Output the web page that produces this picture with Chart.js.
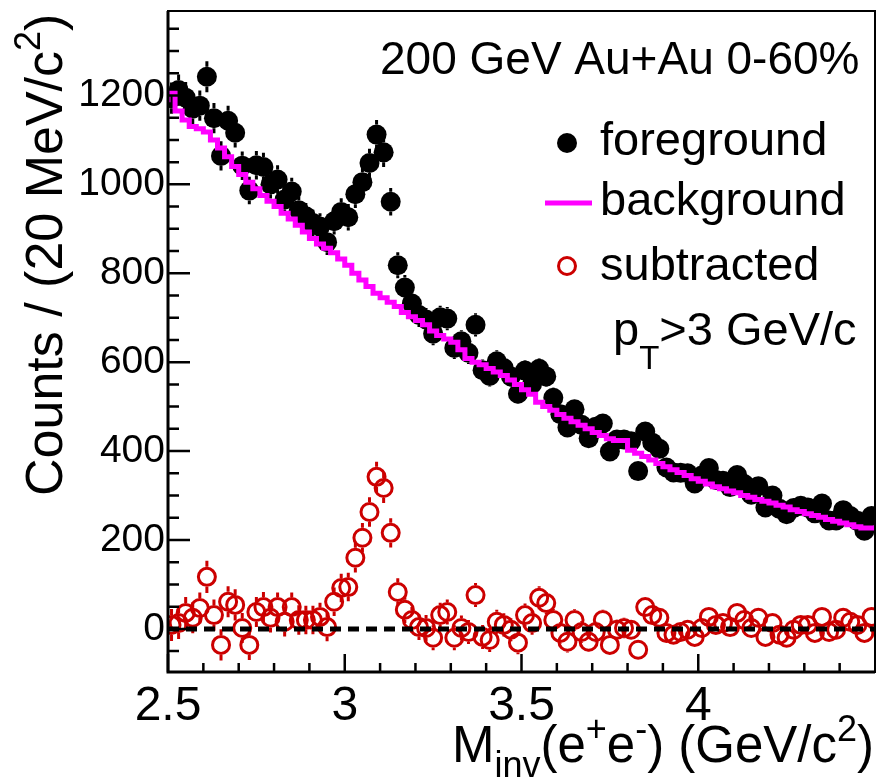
<!DOCTYPE html>
<html>
<head>
<meta charset="utf-8">
<script src="https://cdn.jsdelivr.net/npm/chart.js@4"></script>
<style>
  body { margin: 0; background: #fff; }
  canvas { display: block; }
</style>
</head>
<body>
<canvas id="massChart" width="877" height="781"></canvas>
<script>
// 100 bins of 20 MeV/c^2 between 2.5 and 4.5 GeV/c^2
const massLow = 2.5;
const binWidth = 0.02;

// same-event pairs
const foreground = [
  1194, 1212, 1195, 1170, 1177, 1242, 1149, 1064, 1143, 1116,
  1042, 986, 1043, 1039, 1000, 1011, 966, 984, 942, 928,
  913, 905, 870, 917, 938, 926, 978, 1005, 1048, 1112,
  1072, 961, 818, 768, 732, 706, 696, 664, 701, 698,
  632, 647, 621, 684, 582, 569, 602, 587, 568, 529,
  581, 551, 585, 568, 520, 483, 453, 494, 459, 429,
  455, 462, 399, 426, 426, 422, 355, 444, 419, 405,
  363, 352, 351, 350, 327, 345, 362, 335, 333, 319,
  346, 326, 302, 321, 273, 300, 270, 258, 272, 277,
  273, 260, 282, 244, 244, 267, 254, 243, 221, 254
];
const foregroundErr = [
  35, 35, 35, 34, 34, 35, 34, 33, 34, 33,
  32, 31, 32, 32, 32, 32, 31, 31, 31, 30,
  30, 30, 29, 30, 31, 30, 31, 32, 32, 33,
  33, 31, 29, 28, 27, 27, 26, 26, 26, 26,
  25, 25, 25, 26, 24, 24, 25, 24, 24, 23,
  24, 24, 24, 24, 23, 22, 21, 22, 21, 21,
  21, 21, 20, 21, 21, 21, 19, 21, 20, 20,
  19, 19, 19, 19, 18, 19, 19, 18, 18, 18,
  19, 18, 17, 18, 17, 17, 16, 16, 16, 17,
  17, 16, 17, 16, 16, 16, 16, 16, 15, 16
];

// mixed-event background
const background = [
  1185, 1205, 1165, 1145, 1130, 1125, 1118, 1100, 1082, 1062,
  1040, 1022, 1005, 990, 975, 962, 950, 935, 922, 908,
  893, 878, 866, 856, 846, 832, 818, 800, 785, 770,
  755, 745, 735, 725, 712, 702, 694, 684, 670, 660,
  652, 645, 628, 608, 600, 594, 586, 578, 570, 560,
  550, 538, 528, 510, 500, 492, 482, 474, 466, 458,
  450, 442, 435, 428, 424, 424, 402, 395, 388, 380,
  372, 365, 358, 352, 345, 338, 332, 326, 320, 315,
  310, 306, 300, 296, 291, 287, 283, 278, 274, 268,
  264, 259, 255, 251, 246, 242, 238, 234, 230, 227
];

// foreground minus background
const subtracted = [
  9, 13, 36, 25, 47, 117, 31, -36, 61, 54,
  2, -36, 38, 49, 25, 49, 16, 49, 20, 20,
  20, 27, 4, 61, 92, 94, 160, 205, 263, 342,
  317, 216, 83, 43, 20, 4, 2, -20, 31, 38,
  -20, 2, -7, 76, -18, -25, 16, 9, -2, -31,
  31, 13, 70, 58, 20, -9, -29, 20, -7, -29,
  -7, 20, -36, -2, 2, -2, -47, 49, 31, 25,
  -9, -13, -7, -2, -18, 2, 27, 9, 13, 4,
  36, 20, 2, 25, -18, 13, -13, -20, -2, 9,
  9, -9, 27, -7, -2, 25, 16, 9, -9, 27
];
const subtractedErr = [
  36, 36, 36, 35, 35, 36, 35, 35, 35, 35,
  34, 34, 34, 34, 33, 33, 33, 33, 33, 32,
  32, 32, 32, 32, 32, 32, 33, 33, 33, 34,
  34, 33, 31, 30, 29, 29, 29, 28, 28, 28,
  28, 28, 27, 27, 27, 27, 27, 26, 26, 26,
  26, 26, 26, 25, 25, 24, 24, 24, 24, 23,
  23, 23, 23, 23, 23, 22, 22, 22, 22, 22,
  21, 21, 21, 21, 21, 21, 21, 20, 20, 20,
  20, 20, 20, 20, 19, 19, 19, 19, 19, 19,
  19, 19, 18, 18, 18, 18, 18, 18, 18, 18
];

const xTicks = [2.5, 3, 3.5, 4];
const xTickLabels = ['2.5', '3', '3.5', '4'];
const yTicks = [0, 200, 400, 600, 800, 1000, 1200];
const yTickLabels = ['0', '200', '400', '600', '800', '1000', '1200'];

const FONT = '"Liberation Sans", Arial, Helvetica, sans-serif';
const MAGENTA = '#ff00ff';
const RED = '#cc0000';

const binCenter = i => massLow + binWidth * (i + 0.5);
const fgPoints = foreground.map((v, i) => ({ x: binCenter(i), y: v }));
const subPoints = subtracted.map((v, i) => ({ x: binCenter(i), y: v }));
// step histogram: one point per low edge, plus the last upper edge
const bgPoints = background.map((v, i) => ({ x: massLow + binWidth * i, y: v }));
bgPoints.push({ x: massLow + binWidth * background.length, y: background[background.length - 1] });

// vertical error bars, drawn only outside the marker like ROOT does
const errorBars = {
  id: 'errorBars',
  beforeDatasetsDraw(chart) {
    const ctx = chart.ctx;
    const area = chart.chartArea;
    const y = chart.scales.y;
    ctx.save();
    ctx.beginPath();
    ctx.rect(area.left, area.top, area.right - area.left, area.bottom - area.top);
    ctx.clip();
    chart.data.datasets.forEach((ds, di) => {
      if (!ds.errors) return;
      const meta = chart.getDatasetMeta(di);
      const r = ds.pointRadius + (ds.borderWidth || 0) / 2;
      ctx.strokeStyle = ds.borderColor;
      ctx.lineWidth = 3;
      meta.data.forEach((el, i) => {
        const v = ds.data[i].y;
        const top = y.getPixelForValue(v + ds.errors[i]);
        const bot = y.getPixelForValue(v - ds.errors[i]);
        ctx.beginPath();
        if (top < el.y - r) { ctx.moveTo(el.x, top); ctx.lineTo(el.x, el.y - r); }
        if (bot > el.y + r) { ctx.moveTo(el.x, el.y + r); ctx.lineTo(el.x, bot); }
        ctx.stroke();
      });
    });
    ctx.restore();
  }
};

// parts: [text, size factor, vertical shift in em]
function richWidth(ctx, parts, size) {
  let w = 0;
  parts.forEach(p => {
    ctx.font = Math.round(size * p[1]) + 'px ' + FONT;
    w += ctx.measureText(p[0]).width;
  });
  return w;
}
function drawRich(ctx, parts, x, y, size) {
  parts.forEach(p => {
    ctx.font = Math.round(size * p[1]) + 'px ' + FONT;
    ctx.fillText(p[0], x, y + p[2] * size);
    x += ctx.measureText(p[0]).width;
  });
}

const decorations = {
  id: 'decorations',
  afterDraw(chart) {
    const ctx = chart.ctx;
    const { left, right, top, bottom } = chart.chartArea;
    const xs = chart.scales.x, ys = chart.scales.y;
    ctx.save();
    ctx.strokeStyle = '#000';
    ctx.fillStyle = '#000';

    // frame
    ctx.lineWidth = 2;
    ctx.strokeRect(left, top, right - left, bottom - top);
    ctx.lineWidth = 3;
    ctx.beginPath();
    ctx.moveTo(left, top); ctx.lineTo(left, bottom); ctx.lineTo(right, bottom);
    ctx.stroke();

    // inner ticks
    ctx.lineWidth = 2.5;
    ctx.beginPath();
    for (let v = -50; v <= 1350; v += 50) {
      const py = ys.getPixelForValue(v);
      if (py < top || py > bottom) continue;
      const len = v % 200 === 0 ? 22 : 11;
      ctx.moveTo(left, py); ctx.lineTo(left + len, py);
    }
    for (let k = 25; k <= 45; k++) {
      const px = xs.getPixelForValue(k / 10);
      if (px > right - 1) continue;
      const len = k % 5 === 0 ? 18 : 9;
      ctx.moveTo(px, bottom); ctx.lineTo(px, bottom - len);
    }
    ctx.stroke();

    ctx.textBaseline = 'alphabetic';
    ctx.textAlign = 'left';

    // header
    ctx.font = '46px ' + FONT;
    ctx.fillText('200 GeV Au+Au 0-60%', 380, 74);

    // legend
    ctx.beginPath();
    ctx.arc(567, 143, 10, 0, Math.PI * 2);
    ctx.fill();
    ctx.strokeStyle = MAGENTA;
    ctx.lineWidth = 5;
    ctx.beginPath();
    ctx.moveTo(545, 203); ctx.lineTo(592, 203);
    ctx.stroke();
    ctx.strokeStyle = RED;
    ctx.lineWidth = 3;
    ctx.beginPath();
    ctx.arc(567, 266, 8.5, 0, Math.PI * 2);
    ctx.stroke();
    ctx.font = '47px ' + FONT;
    ctx.fillText('foreground', 600, 155);
    ctx.fillText('background', 600, 215);
    ctx.fillText('subtracted', 600, 280);
    drawRich(ctx, [['p', 1, 0], ['T', 0.7, 0.5], ['>3 GeV/c', 1, 0]], 613, 345, 47);

    // x title, right aligned to the frame
    const xTitle = [['M', 1, 0], ['inv', 0.7, 0.3], ['(e', 1, 0], ['+', 0.7, -0.42], ['e', 1, 0],
      ['-', 0.7, -0.42], [') (GeV/c', 1, 0], ['2', 0.7, -0.42], [')', 1, 0]];
    drawRich(ctx, xTitle, right - 1 - richWidth(ctx, xTitle, 51), 762, 51);

    // y title
    ctx.translate(62, 496);
    ctx.rotate(-Math.PI / 2);
    drawRich(ctx, [['Counts / (20 MeV/c', 1, 0], ['2', 0.7, -0.42], [')', 1, 0]], 0, 0, 52);
    ctx.restore();
  }
};

new Chart(document.getElementById('massChart'), {
  type: 'scatter',
  data: {
    datasets: [
      {
        label: 'background',
        type: 'line',
        data: bgPoints,
        stepped: 'after',
        borderColor: MAGENTA,
        borderWidth: 5,
        pointRadius: 0,
        fill: false,
        order: 0
      },
      {
        label: 'foreground',
        data: fgPoints,
        errors: foregroundErr,
        pointRadius: 10,
        pointHoverRadius: 10,
        backgroundColor: '#000',
        borderColor: '#000',
        borderWidth: 0,
        order: 1
      },
      {
        label: 'zero',
        type: 'line',
        data: [{ x: 2.5, y: 0 }, { x: 4.5, y: 0 }],
        borderColor: '#000',
        borderWidth: 5,
        borderDash: [11, 7],
        pointRadius: 0,
        fill: false,
        order: 2
      },
      {
        label: 'subtracted',
        data: subPoints,
        errors: subtractedErr,
        pointRadius: 8.5,
        pointHoverRadius: 8.5,
        backgroundColor: 'rgba(0,0,0,0)',
        borderColor: RED,
        borderWidth: 3,
        order: 3
      }
    ]
  },
  options: {
    responsive: false,
    animation: false,
    layout: { autoPadding: false, padding: { top: 11, right: 2, left: 0, bottom: 0 } },
    plugins: {
      legend: { display: false },
      tooltip: { enabled: false }
    },
    scales: {
      x: {
        type: 'linear',
        min: 2.5,
        max: 4.5,
        afterBuildTicks: s => { s.ticks = xTicks.map(v => ({ value: v })); },
        afterFit: s => { s.height = 109; s.paddingLeft = 0; s.paddingRight = 0; },
        ticks: {
          callback: v => xTickLabels[xTicks.indexOf(v)],
          font: { family: FONT, size: 48 },
          color: '#000',
          padding: 6,
          maxRotation: 0,
          autoSkip: false
        },
        grid: { display: false, drawTicks: false },
        border: { display: false }
      },
      y: {
        min: -97,
        max: 1390,
        afterBuildTicks: s => { s.ticks = yTicks.map(v => ({ value: v })); },
        afterFit: s => { s.width = 168; s.paddingTop = 0; s.paddingBottom = 0; },
        ticks: {
          callback: v => yTickLabels[yTicks.indexOf(v)],
          font: { family: FONT, size: 39 },
          color: '#000',
          padding: 3
        },
        grid: { display: false, drawTicks: false },
        border: { display: false }
      }
    }
  },
  plugins: [errorBars, decorations]
});
</script>
</body>
</html>
